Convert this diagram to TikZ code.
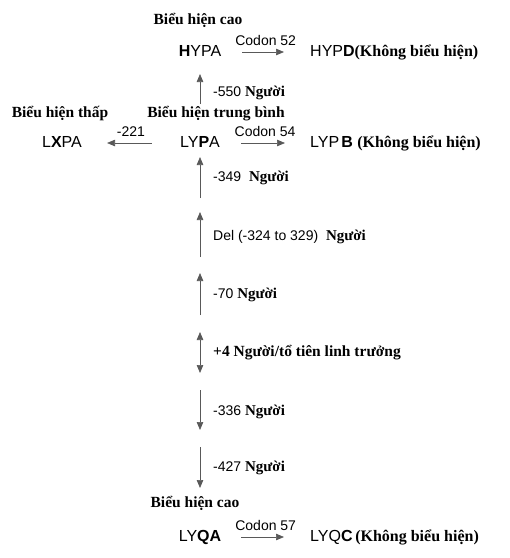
\documentclass[tikz,border=0pt]{standalone}
\usepackage{fontspec}
\setmainfont{Liberation Serif}
\setsansfont{Liberation Sans}
\usetikzlibrary{arrows.meta}

\newcommand{\ngu}{{\rmfamily\bfseries\fontsize{15}{18}\selectfont Người}}
\newcommand{\kbh}{{\rmfamily\bfseries (Không biểu hiện)}}

\begin{document}
\begin{tikzpicture}[x=1pt, y=-1pt,
		gene/.style = {font=\sffamily\fontsize{16}{19}\selectfont, text height=12pt, text depth=3pt, inner sep=0pt},
		expr/.style = {font=\rmfamily\bfseries\fontsize{15.5}{18}\selectfont, inner sep=0pt},
		lab/.style = {font=\sffamily\fontsize{14}{17}\selectfont, anchor=west, inner sep=0pt},
		cod/.style = {above, font=\sffamily\fontsize{14}{17}\selectfont, inner sep=6pt},
		arr/.style = {draw=black!65, line width=0.7pt, -{Triangle[length=8pt, width=6.5pt]}},
		darr/.style = {arr, {Triangle[length=8pt, width=6.5pt]}-{Triangle[length=8pt, width=6.5pt]}}]
		\useasboundingbox (0,0) rectangle (510,558);

		% expression levels
		\node[expr] (e1) at (198,20) {Biểu hiện cao};
		\node[expr] (e2) at (60,114) {Biểu hiện thấp};
		\node[expr] (e3) at (216,114) {Biểu hiện trung bình};
		\node[expr] (e4) at (195,503) {Biểu hiện cao};

		% genes
		\node[gene] (hypa) at (200,52) {\textbf{H}YPA};
		\node[gene, anchor=west] (hypd) at (310,52) {HYP\textbf{D}\kbh};
		\node[gene] (lxpa) at (62,143) {L\textbf{X}PA};
		\node[gene] (lypa) at (200,143) {LY\textbf{P}A};
		\node[gene, anchor=west] (lypb) at (310,143) {LYP\kern2pt\textbf{B} \kbh};
		\node[gene] (lyqa) at (200,537) {LY\textbf{QA}};
		\node[gene, anchor=west] (lyqc) at (310,537) {LYQ\textbf{C}\,\kbh};

		\draw[arr, shorten <=21pt, shorten >=26pt] (hypa) -- node[cod] {Codon 52} (hypd);
		\draw[arr, shorten <=21pt, shorten >=25pt] (lypa) -- node[cod] {Codon 54} (lypb);
		\draw[arr, shorten <=28pt, shorten >=25pt] (lypa) -- node[cod] {-221} (lxpa);
		\draw[arr, shorten <=20pt, shorten >=26pt] (lyqa) -- node[cod] {Codon 57} (lyqc);

		% steps along the axis
		\coordinate (a1) at (200,104);
		\coordinate (b1) at (200,74);
		\coordinate (a2) at (200,198);
		\coordinate (b2) at (200,157);
		\coordinate (a3) at (200,257);
		\coordinate (b3) at (200,212);
		\coordinate (a4) at (200,315);
		\coordinate (b4) at (200,273);
		\coordinate (a5) at (200,373);
		\coordinate (b5) at (200,332);
		\coordinate (a6) at (200,390);
		\coordinate (b6) at (200,430);
		\coordinate (a7) at (200,447);
		\coordinate (b7) at (200,488);
		\draw[arr] (a1) -- (b1);
		\draw[arr] (a2) -- (b2);
		\draw[arr] (a3) -- (b3);
		\draw[arr] (a4) -- (b4);
		\draw[darr] (a5) -- (b5);
		\draw[arr] (a6) -- (b6);
		\draw[arr] (a7) -- (b7);

		\node[lab] (l1) at (213,93) {-550 \ngu};
		\node[lab] (l2) at (213,178) {-349 \ \ngu};
		\node[lab] (l3) at (213,237) {Del (-324 to 329) \ \ngu};
		\node[lab] (l4) at (213,295) {-70 \ngu};
		\node[lab, font=\rmfamily\bfseries\fontsize{15.5}{18}\selectfont] (l5) at (213,353) {+4 Người/tổ tiên linh trưởng};
		\node[lab] (l6) at (213,412) {-336 \ngu};
		\node[lab] (l7) at (213,468) {-427 \ngu};
	\end{tikzpicture}
\end{document}
